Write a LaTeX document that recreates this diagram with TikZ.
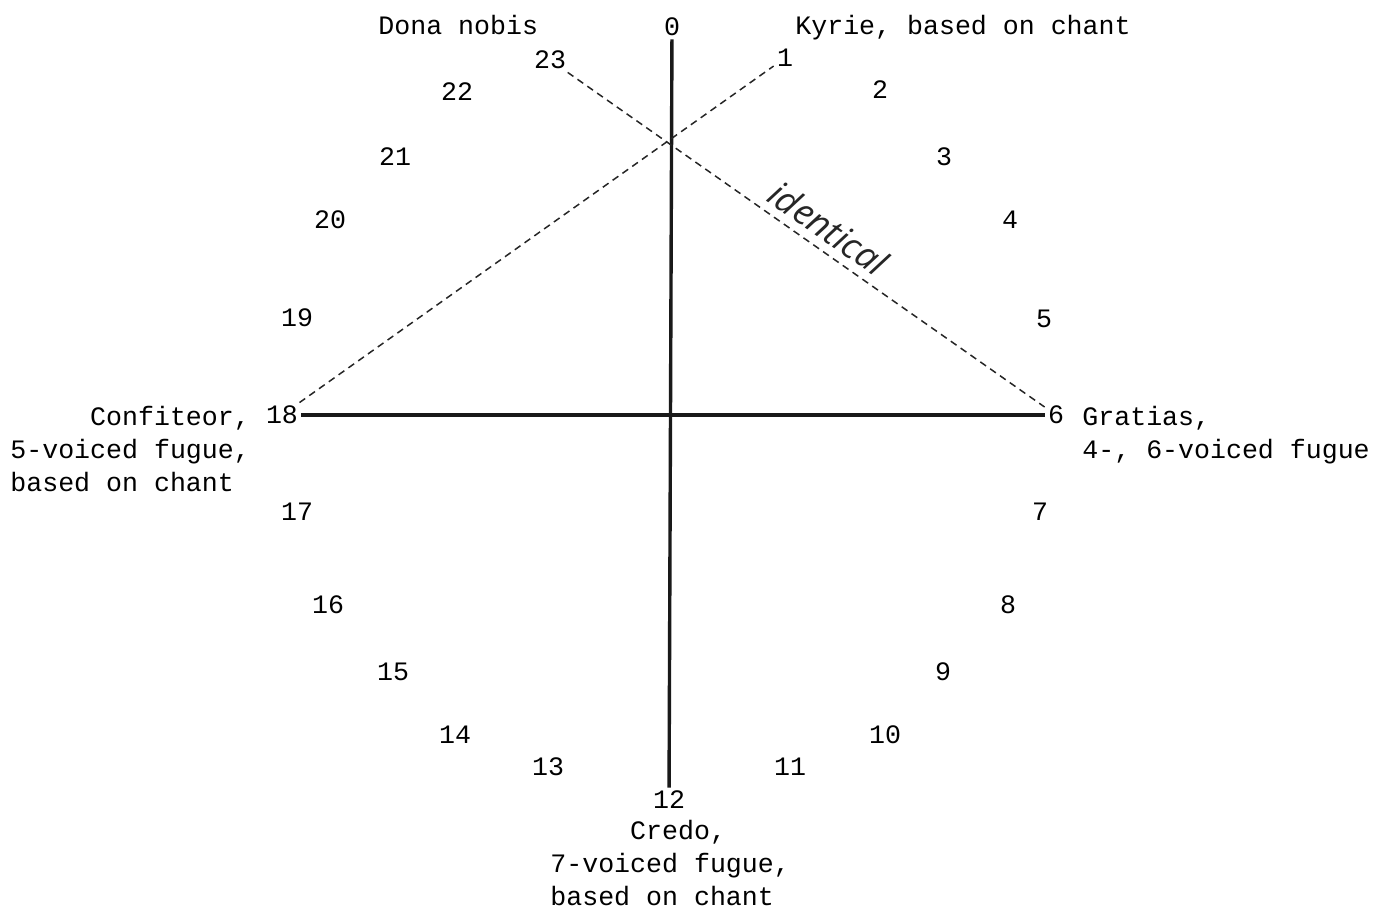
\documentclass[tikz,border=0pt]{standalone}
\usepackage{fontspec}
\setmonofont{Liberation Mono}
\newfontfamily\handfont{Open Sans}
\usepackage{tikz}
\usetikzlibrary{positioning}

\begin{document}
\begin{tikzpicture}[
  x=0.5pt, y=-0.5pt,
  font=\ttfamily\fontsize{13.3}{16.4}\selectfont,
  num/.style={inner sep=1.5pt},
  lbl/.style={inner sep=0pt, align=left},
  axis/.style={line width=1.7pt, black!90},
  dashline/.style={line width=0.75pt, dash pattern=on 3.5pt off 2.5pt, black!85},
]
  \useasboundingbox (0,0) rectangle (1377,909);

  % Hour numbers round the circle
  \foreach \i/\x/\y in {0/672/27, 1/785/58, 2/880/90, 3/944/157, 4/1010/220,
      5/1044/319, 6/1056/415, 7/1040/512, 8/1008/605, 9/943/672, 10/885/735,
      11/790/767, 12/669/800, 13/548/767, 14/455/735, 15/393/672, 16/328/605,
      17/297/512, 18/282/415, 19/297/318, 20/330/220, 21/395/157, 22/457/92,
      23/550/60}
    \node[num] (n\i) at (\x,\y) {\i};

  % Movement labels
  \node[lbl, anchor=base west] (dona) at (378,35) {Dona nobis};
  \node[lbl, anchor=base west] (kyrie) at (795,35) {Kyrie, based on chant};
  \node[lbl, anchor=north west] (confit) at (10,406)
        {\hphantom{00000}Confiteor,\\5-voiced fugue,\\based on chant};
  \node[lbl, anchor=north west] (grat) at (1082,406)
        {Gratias,\\4-, 6-voiced fugue};
  \node[lbl, anchor=north west] (credo) at (550,820)
        {\hphantom{00000}Credo,\\7-voiced fugue,\\based on chant};

  % Cross
  \draw[axis] (n0) -- (n12);
  \draw[axis] (n18) -- (n6);

  % Dashed pairs
  \draw[dashline] (n18) -- (n1);
  \draw[dashline] (n23) -- node[pos=0.52, sloped, above=4pt, inner sep=0pt,
        font=\handfont\itshape\fontsize{18}{18}\selectfont] (ident) {identical} (n6);
\end{tikzpicture}
\end{document}
